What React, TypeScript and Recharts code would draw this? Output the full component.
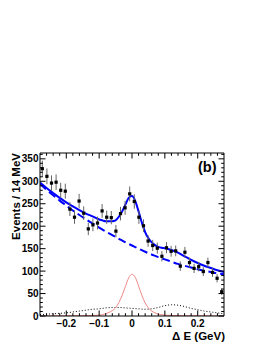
import React from "react";
import { ComposedChart, Line, Scatter, XAxis, YAxis, ErrorBar } from "recharts";

const X_MIN = -0.28;
const X_MAX = 0.28;
const Y_MAX = 363;
const BIN_WIDTH = 0.014;

// Data points (events per 14 MeV bin), 40 bins from -0.28 to 0.28
const counts = [
  328, 311, 296, 298, 280, 278, 238, 220, 256, 229,
  194, 203, 207, 234, 220, 219, 189, 228, 241, 272,
  255, 220, 201, 167, 157, 151, 133, 152, 144, 145,
  111, 142, 119, 106, 110, 99, 119, 97, 84, 54,
];
const countErrors = [
  18, 17.6, 17.2, 17.3, 16.7, 16.7, 15.4, 14.8, 16, 15.1,
  13.9, 14.2, 14.4, 15.3, 14.8, 14.8, 13.7, 15.1, 15.5, 16.5,
  16, 14.8, 14.2, 12.9, 12.5, 12.3, 11.5, 12.3, 12, 12,
  10.5, 11.9, 10.9, 10.3, 10.5, 10, 10.9, 9.8, 9.2, 7.3,
];

// Background curves (coarse grid)
const curveX = [
  -0.28, -0.26, -0.24, -0.22, -0.2, -0.18, -0.16, -0.14, -0.12, -0.1,
  -0.08, -0.06, -0.04, -0.02, 0, 0.02, 0.04, 0.06, 0.08, 0.1,
  0.12, 0.14, 0.16, 0.18, 0.2, 0.22, 0.24, 0.26, 0.28,
];
const bkgDashed = [
  294, 281, 269, 257, 246, 235, 225, 215, 206, 197,
  188, 180, 172, 164, 157, 150, 143, 137, 131, 126,
  121, 116, 112, 108, 104, 101, 98, 95, 93,
];
const otherDotted = [
  3, 4, 5, 6, 7, 9, 11, 13, 15, 16,
  18, 19, 19, 18, 17, 16, 15, 16, 19, 23,
  25, 24, 21, 17, 14, 11, 9, 7, 5,
];

// Signal and total fit (finer grid near the peak)
const fineX = [
  -0.28, -0.26, -0.24, -0.22, -0.2, -0.18, -0.16, -0.14, -0.12, -0.1,
  -0.09, -0.08, -0.07, -0.06, -0.05, -0.04, -0.03, -0.02, -0.01, 0,
  0.01, 0.02, 0.03, 0.04, 0.05, 0.06, 0.07, 0.08, 0.09, 0.1,
  0.12, 0.14, 0.16, 0.18, 0.2, 0.22, 0.24, 0.26, 0.28,
];
const signalRed = [
  0.2, 0.2, 0.3, 0.3, 0.4, 0.5, 0.6, 0.8, 1.2, 2,
  3, 5, 8, 12, 18, 30, 46, 66, 85, 93,
  86, 67, 46, 29, 18, 11, 7, 4, 3, 2,
  1.2, 0.8, 0.6, 0.5, 0.4, 0.3, 0.3, 0.2, 0.2,
];
const totalFit = [
  297, 285, 274, 263, 253, 244, 236, 228, 222, 215,
  213, 211, 211, 211, 213, 221, 233, 248, 263, 267,
  256, 233, 208, 187, 173, 164, 158, 154, 152, 151,
  147, 141, 133, 125, 118, 112, 107, 102, 98,
];

const xTicks = [
  -0.26, -0.24, -0.22, -0.2, -0.18, -0.16, -0.14, -0.12, -0.1, -0.08,
  -0.06, -0.04, -0.02, 0, 0.02, 0.04, 0.06, 0.08, 0.1, 0.12,
  0.14, 0.16, 0.18, 0.2, 0.22, 0.24, 0.26,
];
const yTicks = [
  0, 10, 20, 30, 40, 50, 60, 70, 80, 90, 100, 110, 120, 130, 140, 150,
  160, 170, 180, 190, 200, 210, 220, 230, 240, 250, 260, 270, 280, 290,
  300, 310, 320, 330, 340, 350, 360,
];

const pointData = counts.map((c, i) => ({
  x: X_MIN + BIN_WIDTH * (i + 0.5),
  y: c,
  err: countErrors[i],
}));
const dashedData = curveX.map((x, i) => ({ x, y: bkgDashed[i] }));
const dottedData = curveX.map((x, i) => ({ x, y: otherDotted[i] }));
const redData = fineX.map((x, i) => ({ x, y: signalRed[i] }));
const totalData = fineX.map((x, i) => ({ x, y: totalFit[i] }));

const FONT = "'Liberation Sans', Arial, Helvetica, sans-serif";
const MAJ = 5.5;
const MIN = 2.8;

const isMajorX = (v: number) => Math.abs(v * 10 - Math.round(v * 10)) < 1e-6;
const isMajorY = (v: number) => v % 50 === 0;
const fmtX = (v: number) =>
  Math.abs(v) < 1e-9 ? "0" : (v < 0 ? "\u2212" : "") + Math.abs(v).toFixed(1);

const BottomTick = (props: any) => {
  const { x, y, payload } = props;
  const v = payload.value;
  const major = isMajorX(v);
  return (
    <g>
      <line x1={x} x2={x} y1={y} y2={y - (major ? MAJ : MIN)} stroke="#000" strokeWidth={1} />
      {major && (
        <text x={x} y={y + 10.5} textAnchor="middle" fontFamily={FONT} fontWeight="bold" fontSize={10} fill="#000">
          {fmtX(v)}
        </text>
      )}
    </g>
  );
};

const TopTick = (props: any) => {
  const { x, y, payload } = props;
  const major = isMajorX(payload.value);
  return <line x1={x} x2={x} y1={y} y2={y + (major ? MAJ : MIN)} stroke="#000" strokeWidth={1} />;
};

const LeftTick = (props: any) => {
  const { x, y, payload } = props;
  const v = payload.value;
  const major = isMajorY(v);
  return (
    <g>
      <line x1={x} x2={x + (major ? MAJ : MIN)} y1={y} y2={y} stroke="#000" strokeWidth={1} />
      {major && (
        <text x={x - 1.5} y={y + 3.6} textAnchor="end" fontFamily={FONT} fontWeight="bold" fontSize={10} fill="#000">
          {v}
        </text>
      )}
    </g>
  );
};

const RightTick = (props: any) => {
  const { x, y, payload } = props;
  const major = isMajorY(payload.value);
  return <line x1={x} x2={x - (major ? MAJ : MIN)} y1={y} y2={y} stroke="#000" strokeWidth={1} />;
};

const PointShape = (props: any) => {
  const { cx, cy } = props;
  return <rect x={cx - 1.6} y={cy - 1.6} width={3.2} height={3.2} fill="#000" />;
};

export default function App() {
  return (
    <div style={{ position: "absolute", left: 0, top: 0, width: 270, height: 349, background: "#fff" }}>
      <ComposedChart
        width={270}
        height={349}
        margin={{ top: 152, right: 45, bottom: 3, left: 0 }}
      >
        <XAxis
          xAxisId="main"
          dataKey="x"
          type="number"
          domain={[X_MIN, X_MAX]}
          allowDataOverflow
          ticks={xTicks}
          interval={0}
          tickSize={0}
          tickMargin={0}
          tickLine={false}
          height={30}
          axisLine={{ stroke: "#000", strokeWidth: 1 }}
          tick={<BottomTick />}
        />
        <XAxis
          xAxisId="top"
          orientation="top"
          dataKey="x"
          type="number"
          domain={[X_MIN, X_MAX]}
          allowDataOverflow
          ticks={xTicks}
          interval={0}
          tickSize={0}
          tickMargin={0}
          tickLine={false}
          height={1}
          axisLine={{ stroke: "#000", strokeWidth: 1 }}
          tick={<TopTick />}
        />
        <YAxis
          yAxisId="main"
          type="number"
          domain={[0, Y_MAX]}
          allowDataOverflow
          ticks={yTicks}
          interval={0}
          tickSize={0}
          tickMargin={0}
          tickLine={false}
          width={40}
          axisLine={{ stroke: "#000", strokeWidth: 1 }}
          tick={<LeftTick />}
        />
        <YAxis
          yAxisId="right"
          orientation="right"
          type="number"
          domain={[0, Y_MAX]}
          allowDataOverflow
          ticks={yTicks}
          interval={0}
          tickSize={0}
          tickMargin={0}
          tickLine={false}
          width={1}
          axisLine={{ stroke: "#000", strokeWidth: 1 }}
          tick={<RightTick />}
        />
        <Line
          xAxisId="top"
          yAxisId="right"
          data={dottedData}
          dataKey="y"
          stroke="none"
          dot={false}
          isAnimationActive={false}
        />
        <Line
          xAxisId="main"
          yAxisId="main"
          data={dottedData}
          dataKey="y"
          type="monotone"
          stroke="#000"
          strokeWidth={1}
          strokeDasharray="1 2"
          dot={false}
          isAnimationActive={false}
        />
        <Line
          xAxisId="main"
          yAxisId="main"
          data={redData}
          dataKey="y"
          type="monotone"
          stroke="#f08888"
          strokeWidth={1}
          dot={false}
          isAnimationActive={false}
        />
        <Line
          xAxisId="main"
          yAxisId="main"
          data={dashedData}
          dataKey="y"
          type="monotone"
          stroke="#0000ff"
          strokeWidth={2}
          strokeDasharray="8 4"
          dot={false}
          isAnimationActive={false}
        />
        <Line
          xAxisId="main"
          yAxisId="main"
          data={totalData}
          dataKey="y"
          type="monotone"
          stroke="#0000ff"
          strokeWidth={2}
          dot={false}
          isAnimationActive={false}
        />
        <Scatter
          xAxisId="main"
          yAxisId="main"
          data={pointData}
          dataKey="y"
          shape={<PointShape />}
          isAnimationActive={false}
        >
          <ErrorBar dataKey="err" direction="y" width={0} stroke="#666" strokeWidth={1} isAnimationActive={false} />
        </Scatter>
      </ComposedChart>
      <svg
        width={270}
        height={349}
        style={{ position: "absolute", left: 0, top: 0, pointerEvents: "none" }}
      >
        <text
          transform="translate(19.5,153) rotate(-90)"
          textAnchor="end"
          fontFamily={FONT}
          fontWeight="bold"
          fontSize={11.5}
          fill="#000"
        >
          Events / 14 MeV
        </text>
        <text x={225} y={340} textAnchor="end" fontFamily={FONT} fontWeight="bold" fontSize={11.5} fill="#000">
          Δ E (GeV)
        </text>
        <text x={198} y={172} textAnchor="start" fontFamily={FONT} fontWeight="bold" fontSize={14.5} fill="#000">
          (b)
        </text>
      </svg>
    </div>
  );
}
